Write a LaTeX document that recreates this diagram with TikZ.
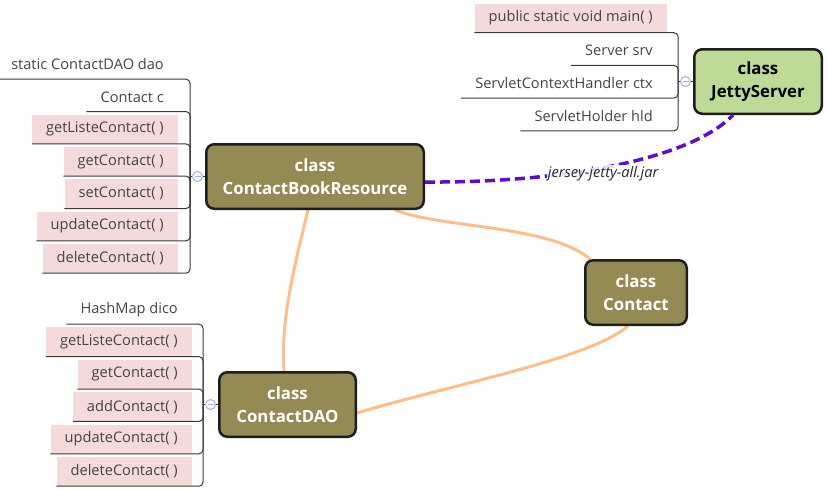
\documentclass[tikz,border=0pt]{standalone}
\usepackage{fontspec}
\setmainfont{Open Sans}
\usetikzlibrary{positioning,backgrounds}
\definecolor{topicolive}{HTML}{948A54}
\definecolor{jettygreen}{HTML}{BDDB97}
\definecolor{topicline}{HTML}{1E1E1E}
\definecolor{methodpink}{HTML}{F4DADA}
\definecolor{subtext}{HTML}{444444}
\definecolor{branchline}{HTML}{3A3A3A}
\definecolor{togglering}{HTML}{9DB4EE}
\definecolor{linkorange}{HTML}{FDBE8A}
\definecolor{jarpurple}{HTML}{5B0BD3}
\tikzset{
  topic/.style={draw=topicline, line width=2.5pt, rounded corners=8pt,
    align=center, inner sep=0pt, font=\fontsize{16.8}{22.5}\selectfont\bfseries},
  subtopic/.style={anchor=east, minimum height=29pt, inner xsep=14pt,
    inner ysep=0pt, text=subtext, font=\fontsize{14.6}{17}\selectfont},
  branch/.style={draw=branchline, line width=1pt, rounded corners=4pt},
  toggle/.style={circle, draw=togglering, fill=white, minimum size=10pt,
    inner sep=0pt, line width=1pt,
    path picture={
      \draw[togglering, line width=1pt]
        ([xshift=-3pt]path picture bounding box.center)--
        ([xshift=3pt]path picture bounding box.center);
    }
  },
  link/.style={draw=linkorange, line width=3pt},
  jarlink/.style={draw=jarpurple, line width=3.5pt, dash pattern=on 10pt off 5pt}
}

\begin{document}
\begin{tikzpicture}[x=1pt,y=-1pt]
        \useasboundingbox (0,0) rectangle (828,490);

        %-----------------------------------------------
        % Classes
        \node[topic, fill=topicolive, text=white, minimum width=217.5pt, minimum height=64.5pt] (cbr) at (315,176.5) {class\\ContactBookResource};
        \node[topic, fill=jettygreen, text=black, minimum width=127.5pt, minimum height=64.5pt] (jetty) at (758,81.5) {class\\JettyServer};
        \node[topic, fill=topicolive, text=white, minimum width=101.5pt, minimum height=64.5pt] (contact) at (636,292.5) {class\\Contact};
        \node[topic, fill=topicolive, text=white, minimum width=136.5pt, minimum height=64.5pt] (dao) at (287.5,404.5) {class\\ContactDAO};

        %-----------------------------------------------
        % Members of ContactBookResource
        \coordinate (cbrj) at (190,176.5);
        \foreach \t/\f [count=\i] in {static ContactDAO dao/none,Contact c/none,getListeContact( )/methodpink,getContact( )/methodpink,setContact( )/methodpink,updateContact( )/methodpink,deleteContact( )/methodpink}{
            \node[subtopic, fill=\f] (cbr\i) at (178,{64.5+32.33*(\i-1)}) {\t};
            \draw[branch] (cbr\i.south west) -- (cbr\i.south east) -| (cbrj);
        }
        \draw[branch] (cbrj) -- node[toggle, pos=.5] (cbrtog) {} (cbr.west);

        %-----------------------------------------------
        % Members of JettyServer
        \coordinate (jettyj) at (678,81.5);
        \foreach \t/\f [count=\i] in {public static void main( )/methodpink,Server srv/none,ServletContextHandler ctx/none,ServletHolder hld/none}{
            \node[subtopic, fill=\f] (jetty\i) at (667,{18+32.7*(\i-1)}) {\t};
            \draw[branch] (jetty\i.south west) -- (jetty\i.south east) -| (jettyj);
        }
        \draw[branch] (jettyj) -- node[toggle, pos=.5] (jettytog) {} (jetty.west);

        %-----------------------------------------------
        % Members of ContactDAO
        \coordinate (daoj) at (203,404.5);
        \foreach \t/\f [count=\i] in {HashMap dico/none,getListeContact( )/methodpink,getContact( )/methodpink,addContact( )/methodpink,updateContact( )/methodpink,deleteContact( )/methodpink}{
            \node[subtopic, fill=\f] (dao\i) at (192,{309.5+32.4*(\i-1)}) {\t};
            \draw[branch] (dao\i.south west) -- (dao\i.south east) -| (daoj);
        }
        \draw[branch] (daoj) -- node[toggle, pos=.5] (daotog) {} (dao.west);

        %-----------------------------------------------
        % Relations
        \begin{scope}[on background layer]
            \draw[link] ([xshift=80pt]cbr.south) .. controls +(45,18) and +(-40,-34) .. ([xshift=6pt]contact.north west);
            \draw[link] ([xshift=-7pt]cbr.south) .. controls +(-12,50) and +(-4,-51) .. ([xshift=-3.5pt]dao.north);
            \draw[link] ([xshift=-8pt]contact.south) .. controls +(-38,33) and +(93,-28) .. ([yshift=-8.5pt]dao.east);
            \draw[jarlink] ([yshift=-5.5pt]cbr.east) .. controls +(135,1) and +(-43,45) .. ([xshift=-25pt]jetty.south)
                node[pos=.46, xshift=3pt, yshift=-5pt, font=\fontsize{14.6}{17}\selectfont\itshape, text=black!85, fill=white, fill opacity=.85, text opacity=1, inner sep=1pt] (jar) {jersey-jetty-all.jar};
        \end{scope}

\end{tikzpicture}
\end{document}
